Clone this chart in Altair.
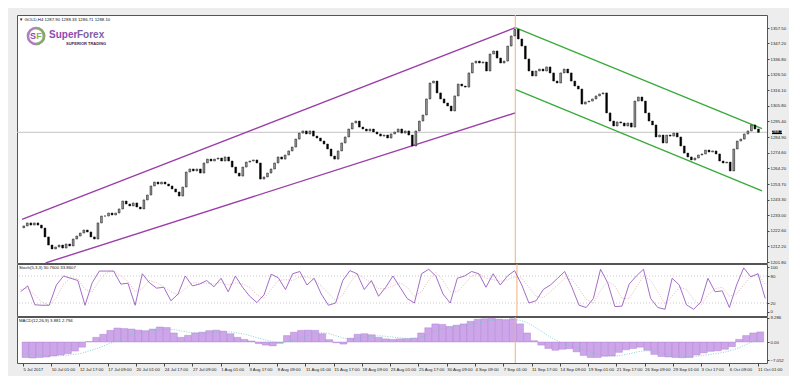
import json
import altair as alt
import pandas as pd

# ---------------- data ----------------
header_text = "\u25bc GOLD,H4  1287.90 1288.33 1286.71 1288.10"
stoch_title = "Stoch(5,3,3) 30.7600 33.8607"
macd_title = "MACD(12,26,9) 3.881 2.794"

first_open = 1224.6
closes = [
    1225.8, 1227.8, 1226.4, 1227.8, 1226.4, 1224.4, 1218.5, 1213.1, 1210.5, 1211.8,
    1213.1, 1211.1, 1213.8, 1212.5, 1217.1, 1219.1, 1221.1, 1223.1, 1221.8, 1218.5,
    1217.1, 1227.8, 1232.4, 1232.4, 1234.4, 1233.1, 1234.4, 1237.1, 1242.4, 1240.4,
    1239.1, 1241.1, 1238.4, 1237.1, 1243.1, 1246.4, 1252.4, 1255.0, 1253.7, 1255.0,
    1253.7, 1252.4, 1250.4, 1248.4, 1245.7, 1251.7, 1261.7, 1263.7, 1262.4, 1263.7,
    1261.0, 1267.7, 1270.3, 1269.0, 1270.3, 1271.0, 1269.0, 1271.7, 1269.0, 1265.0,
    1261.0, 1259.0, 1265.0, 1268.3, 1269.0, 1269.7, 1267.7, 1257.0, 1258.4, 1261.0,
    1263.7, 1267.7, 1271.7, 1270.3, 1273.0, 1275.7, 1278.3, 1283.6, 1287.6, 1289.0,
    1287.0, 1289.0, 1285.6, 1284.3, 1282.3, 1280.3, 1277.0, 1272.3, 1270.3, 1275.7,
    1281.0, 1285.0, 1290.3, 1294.3, 1295.6, 1291.6, 1290.3, 1289.0, 1290.3, 1288.3,
    1287.0, 1285.6, 1286.3, 1284.3, 1287.0, 1288.3, 1290.3, 1287.6, 1289.0, 1286.3,
    1279.0, 1289.0, 1295.6, 1299.6, 1310.3, 1320.9, 1322.2, 1314.3, 1310.3, 1307.6,
    1305.6, 1302.3, 1312.3, 1320.2, 1318.9, 1318.2, 1327.6, 1334.2, 1335.5, 1334.2,
    1334.9, 1328.9, 1340.2, 1342.2, 1337.5, 1334.2, 1335.5, 1345.5, 1352.2, 1356.5,
    1350.2, 1345.5, 1336.9, 1328.9, 1325.6, 1328.9, 1330.2, 1328.9, 1331.6, 1327.6,
    1322.2, 1320.9, 1327.6, 1330.2, 1327.6, 1322.2, 1318.9, 1316.9, 1306.9, 1308.3,
    1308.9, 1310.3, 1312.3, 1313.6, 1314.3, 1301.0, 1295.6, 1292.3, 1295.0, 1294.3,
    1292.3, 1294.3, 1291.6, 1308.9, 1311.6, 1308.9, 1301.0, 1295.6, 1293.0, 1285.0,
    1286.3, 1281.0, 1286.3, 1285.6, 1287.6, 1285.0, 1279.0, 1274.3, 1271.7, 1269.7,
    1271.0, 1273.0, 1273.7, 1276.3, 1275.0, 1275.7, 1273.7, 1269.0, 1267.7, 1268.3,
    1262.4, 1277.0, 1282.3, 1283.6, 1287.0, 1289.0, 1293.0, 1290.3, 1288.1,
]
bars_per_candle = 2

last_price = 1288.10
price_ticks = [1201.80, 1212.20, 1222.60, 1233.00, 1243.30, 1253.70, 1264.20, 1274.60,
               1284.90, 1295.40, 1305.80, 1316.10, 1326.50, 1336.80, 1347.20, 1357.50]

time_tick_bars = [0, 16, 32, 48, 64, 80, 96, 112, 128, 144, 160, 176, 192, 208, 224,
                  240, 256, 272, 288, 304, 320, 336, 352, 368, 384, 400, 416]
time_labels = ["5 Jul 2017", "10 Jul 01:00", "12 Jul 17:00", "17 Jul 09:00", "20 Jul 01:00",
               "24 Jul 17:00", "27 Jul 09:00", "1 Aug 01:00", "3 Aug 17:00", "8 Aug 09:00",
               "11 Aug 01:00", "15 Aug 17:00", "18 Aug 09:00", "23 Aug 01:00", "25 Aug 17:00",
               "30 Aug 09:00", "4 Sep 09:00", "7 Sep 01:00", "11 Sep 17:00", "14 Sep 09:00",
               "19 Sep 01:00", "21 Sep 17:00", "26 Sep 09:00", "29 Sep 01:00", "3 Oct 17:00",
               "6 Oct 09:00", "11 Oct 01:00"]

# trend lines: (bar start, price start, bar end, price end)
channel_purple = [(-0.5, 1230.2, 278.8, 1357.7), (12.9, 1201.2, 278.8, 1301.0)]
channel_green = [(278.8, 1357.7, 418.5, 1290.5), (278.8, 1316.7, 418.5, 1249.1)]
vline_bar = 278.8

ind_step = 4
stoch_k = [45, 58, 16, 15, 15, 60, 80, 75, 70, 15,
           65, 91, 91, 91, 62, 64, 15, 85, 65, 53,
           55, 25, 40, 80, 58, 62, 70, 56, 75, 45,
           80, 55, 35, 21, 38, 84, 76, 50, 85, 90,
           60, 75, 40, 15, 20, 70, 92, 85, 50, 70,
           35, 55, 80, 55, 30, 20, 85, 95, 80, 40,
           20, 75, 80, 90, 85, 55, 85, 60, 80, 92,
           60, 20, 25, 50, 60, 75, 90, 55, 15, 10,
           30, 95, 65, 12, 13, 62, 80, 95, 30, 10,
           6, 75, 60, 16, 6, 22, 75, 45, 47, 10,
           60, 98, 78, 85, 30]
stoch_d = [50, 52, 38, 22, 15, 32, 62, 76, 74, 50,
           45, 70, 88, 91, 80, 68, 45, 52, 70, 65,
           56, 45, 38, 52, 65, 64, 64, 62, 66, 60,
           65, 62, 55, 38, 30, 50, 70, 72, 70, 78,
           78, 72, 58, 42, 25, 38, 65, 85, 75, 65,
           52, 52, 58, 65, 55, 35, 45, 70, 88, 70,
           45, 45, 62, 80, 85, 75, 72, 68, 72, 78,
           75, 55, 35, 32, 45, 60, 75, 72, 52, 28,
           20, 48, 68, 58, 30, 30, 55, 80, 70, 45,
           18, 35, 55, 50, 28, 15, 38, 52, 55, 35,
           40, 60, 80, 85, 60]
stoch_levels = [20, 80]
stoch_ticks = [0, 20, 80, 100]

macd_hist = [-6.0, -6.2, -6.0, -5.8, -5.4, -5.0, -4.5, -3.5, -2.0, 0.2,
             1.8, 3.0, 4.5, 5.4, 5.2, 5.0, 4.6, 4.4, 5.0, 5.8,
             5.6, 3.5, 1.8, 2.6, 3.5, 3.8, 4.4, 4.6, 4.2, 3.2,
             1.8, 1.0, 0.4, -0.6, -1.2, -1.5, -0.5, 2.5, 3.8, 4.5,
             4.6, 4.5, 3.2, 0.9, -0.3, -0.8, 1.5, 3.0, 3.2, 2.8,
             1.8, 1.2, 1.0, 1.2, 1.3, 1.5, 3.5, 5.5, 7.0, 6.8,
             6.0, 6.5, 7.0, 8.0, 8.8, 9.0, 9.2, 8.8, 8.6, 9.0,
             7.0, 3.5, 0.5, -1.2, -2.5, -3.2, -2.8, -2.6, -3.8, -5.2,
             -6.0, -6.0, -5.5, -5.4, -4.0, -3.0, -2.5, -2.0, -3.2, -4.8,
             -5.6, -5.8, -6.0, -6.1, -6.0, -5.0, -4.2, -3.6, -3.4, -2.8,
             -1.8, 1.0, 2.5, 3.5, 3.9]
macd_signal = [-4.5, -4.8, -5.0, -5.2, -5.3, -5.3, -5.1, -4.8, -4.3, -3.5,
               -2.6, -1.6, -0.5, 0.6, 1.8, 2.8, 3.6, 4.1, 4.4, 4.6,
               4.9, 4.8, 4.3, 3.8, 3.5, 3.4, 3.5, 3.8, 4.0, 3.9,
               3.5, 3.0, 2.3, 1.5, 0.8, 0.1, -0.3, 0.1, 0.9, 1.8,
               2.6, 3.3, 3.6, 3.2, 2.4, 1.5, 1.0, 1.3, 1.9, 2.3,
               2.4, 2.2, 1.9, 1.6, 1.4, 1.4, 1.9, 2.9, 4.2, 5.2,
               5.8, 6.1, 6.4, 6.8, 7.3, 7.9, 8.4, 8.7, 8.7, 8.7,
               8.4, 7.5, 6.0, 4.2, 2.4, 0.8, -0.5, -1.4, -2.2, -3.1,
               -4.0, -4.8, -5.3, -5.5, -5.3, -4.8, -4.2, -3.6, -3.4, -3.6,
               -4.1, -4.7, -5.2, -5.5, -5.6, -5.5, -5.2, -4.8, -4.4, -3.9,
               -3.2, -2.2, -1.0, 0.2, 1.3]
macd_ticks = [-7.052, 0.0, 9.286]

# ---------------- tables ----------------
opens = [first_open] + closes[:-1]
candles = pd.DataFrame({
    "bar": [bars_per_candle * i + (bars_per_candle - 1) / 2 for i in range(len(closes))],
    "open": opens,
    "close": closes,
})

lines_df = pd.DataFrame(
    [dict(b1=a, p1=b, b2=c, p2=d, col="purple") for a, b, c, d in channel_purple]
    + [dict(b1=a, p1=b, b2=c, p2=d, col="green") for a, b, c, d in channel_green]
)
ind_bars = [ind_step * i + (ind_step - 1) / 2 for i in range(len(stoch_k))]
stoch_df = pd.DataFrame({"bar": ind_bars, "k": stoch_k, "d": stoch_d})
macd_df = pd.DataFrame({"bar": ind_bars[:len(macd_hist)], "h": macd_hist, "s": macd_signal})

W = 750
X_DOM = [-0.5, 418.5]
FONT = "Liberation Sans"
FS = 4.3

xsc = alt.Scale(domain=X_DOM, nice=False, zero=False)
view_bg = alt.ViewBackground(fill="white", stroke="#555555", strokeWidth=1)


def yaxis(values, fmt_expr=None, fmt=None):
    kw = dict(orient="right", values=values, title=None, grid=False, labelFontSize=FS,
              labelFont=FONT, labelColor="#222222", tickSize=2, tickColor="#444444",
              domain=False, labelPadding=1, labelFlush=False, labelOverlap=False)
    if fmt_expr:
        kw["labelExpr"] = fmt_expr
    if fmt:
        kw["format"] = fmt
    return alt.Axis(**kw)


label_js = json.dumps(time_labels)
X_AX = alt.Axis(values=time_tick_bars, labelExpr=f"{label_js}[round(datum.value/16)]",
                title=None, grid=False, labelFontSize=FS, labelFont=FONT,
                labelColor="#222222", labelAlign="left", labelPadding=1,
                tickSize=3, tickColor="#444444", domain=False, labelFlush=False,
                labelOverlap=False)

# ---------------- main panel ----------------
y_main = alt.Scale(domain=[1201.15, 1366.15], nice=False, zero=False)
AX_MAIN = yaxis(price_ticks, fmt=".2f")
XN = alt.X("bar:Q", scale=xsc, axis=None)

base_c = alt.Chart(candles)
cur_line = alt.Chart(pd.DataFrame({"p": [last_price]})).mark_rule(
    color="#c4c4c4", strokeWidth=1
).encode(y=alt.Y("p:Q", scale=y_main, axis=AX_MAIN))

ch_lines = alt.Chart(lines_df).mark_rule(strokeWidth=1.4).encode(
    x=alt.X("b1:Q", scale=xsc, axis=None), x2="b2:Q",
    y=alt.Y("p1:Q", scale=y_main, axis=AX_MAIN), y2="p2:Q",
    color=alt.Color("col:N", scale=alt.Scale(domain=["purple", "green"],
                                              range=["#9b3fa8", "#3aaa3a"]), legend=None),
)
vline = alt.Chart(pd.DataFrame({"b": [vline_bar]})).mark_rule(
    color="#f3b07c", strokeWidth=1).encode(x=alt.X("b:Q", scale=xsc, axis=None))

body = base_c.mark_bar(width=1.8, stroke="#111111", strokeWidth=0.5).encode(
    x=XN,
    y=alt.Y("open:Q", scale=y_main, axis=AX_MAIN), y2="close:Q",
    fill=alt.condition("datum.close >= datum.open", alt.value("#9c9c9c"), alt.value("#000000")),
)
wick = base_c.mark_rule(color="#000000", strokeWidth=0.8).encode(
    x=XN, y=alt.Y("open:Q", scale=y_main, axis=AX_MAIN), y2="close:Q",
)

hdr = alt.Chart(pd.DataFrame({"t": [header_text]})).mark_text(
    align="left", baseline="middle", fontSize=FS, font=FONT, color="#111111"
).encode(text="t:N", x=alt.value(2), y=alt.value(5))

logo_ring = alt.Chart(pd.DataFrame({"a": [0]})).mark_point(
    shape="circle", size=260, filled=False, strokeWidth=2.6, color="#8b4aa8"
).encode(x=alt.value(19), y=alt.value(21))
logo_ring2 = alt.Chart(pd.DataFrame({"a": [0]})).mark_point(
    shape="M0,-1 A1,1 0 0,1 0,1", size=260, filled=False, strokeWidth=2.6, color="#7cba4a"
).encode(x=alt.value(19), y=alt.value(21))
logo_sf = alt.Chart(pd.DataFrame({"t": ["S", "F"], "c": ["#8b4aa8", "#7cba4a"],
                                  "xo": [16, 22]})).mark_text(
    fontSize=9, fontWeight="bold", font=FONT, baseline="middle", align="center"
).encode(text="t:N", x=alt.X("xo:Q", scale=None), y=alt.value(21),
         color=alt.Color("c:N", scale=None))
logo_txt = alt.Chart(pd.DataFrame({"t": ["Super", "Forex"], "c": ["#8e4bb0", "#7d5fa5"],
                                   "xo": [32, 60]})).mark_text(
    fontSize=10, fontWeight="bold", font=FONT, baseline="middle", align="left"
).encode(text="t:N", x=alt.X("xo:Q", scale=None), y=alt.value(20),
         color=alt.Color("c:N", scale=None))
logo_sub = alt.Chart(pd.DataFrame({"t": ["SUPERIOR TRADING"]})).mark_text(
    fontSize=4, fontWeight="bold", font=FONT, baseline="middle", align="left", color="#3d2457"
).encode(text="t:N", x=alt.value(49), y=alt.value(29))

pbox = alt.Chart(pd.DataFrame({"p": [last_price], "t": [f"{last_price:.2f}"]}))
pbox_rect = pbox.mark_point(shape="M-1,-0.36L1,-0.36L1,0.36L-1,0.36Z", size=100,
                            filled=True, color="#000000", opacity=1).encode(
    x=alt.value(760), y=alt.Y("p:Q", scale=y_main, axis=AX_MAIN))
pbox_txt = pbox.mark_text(fontSize=FS, font=FONT, color="#ffffff", align="center",
                          baseline="middle").encode(
    x=alt.value(760), y=alt.Y("p:Q", scale=y_main, axis=AX_MAIN), text="t:N")

main = alt.layer(cur_line, ch_lines, vline, wick, body, hdr,
                 logo_ring, logo_ring2, logo_sf, logo_txt, logo_sub,
                 pbox_rect, pbox_txt).properties(width=W, height=248, view=view_bg)

# ---------------- stochastic ----------------
y_st = alt.Scale(domain=[-8.89, 106.67], nice=False, zero=False)
AX_ST = yaxis(stoch_ticks, fmt="d")
st_levels = alt.Chart(pd.DataFrame({"v": stoch_levels})).mark_rule(
    color="#bdbdbd", strokeDash=[1, 2], strokeWidth=0.8
).encode(y=alt.Y("v:Q", scale=y_st, axis=AX_ST))
st_vline = alt.Chart(pd.DataFrame({"b": [vline_bar]})).mark_rule(
    color="#f3b07c", strokeWidth=1).encode(x=alt.X("b:Q", scale=xsc, axis=None))
st_d = alt.Chart(stoch_df).mark_line(color="#e2a7a7", strokeDash=[1, 1.5], strokeWidth=0.8).encode(
    x=XN, y=alt.Y("d:Q", scale=y_st, axis=AX_ST))
st_k = alt.Chart(stoch_df).mark_line(color="#9a5cc0", strokeWidth=0.9).encode(
    x=XN, y=alt.Y("k:Q", scale=y_st, axis=AX_ST))
st_hdr = alt.Chart(pd.DataFrame({"t": [stoch_title]})).mark_text(
    align="left", baseline="middle", fontSize=FS, font=FONT, color="#111111"
).encode(text="t:N", x=alt.value(2), y=alt.value(4))
stoch = alt.layer(st_levels, st_vline, st_d, st_k, st_hdr).properties(
    width=W, height=52, view=view_bg)

# ---------------- MACD ----------------
y_m = alt.Scale(domain=[-8.12, 9.67], nice=False, zero=False)
AX_M = yaxis(macd_ticks, fmt_expr="datum.value == 0 ? '0.00' : format(datum.value, '.3f')")
XM = alt.X("bar:Q", scale=xsc, axis=X_AX)
m_hist = alt.Chart(macd_df).mark_bar(width=6.9, color="#cda6ea", stroke="#a877cc",
                                     strokeWidth=0.4).encode(
    x=XM, y=alt.Y("h:Q", scale=y_m, axis=AX_M), y2=alt.datum(0),
)
m_sig = alt.Chart(macd_df).mark_line(color="#6cc7c0", strokeDash=[1, 1.5], strokeWidth=0.8).encode(
    x=XM, y=alt.Y("s:Q", scale=y_m, axis=AX_M))
m_vline = alt.Chart(pd.DataFrame({"bar": [vline_bar]})).mark_rule(
    color="#f3b07c", strokeWidth=1).encode(x=XM)
m_hdr = alt.Chart(pd.DataFrame({"t": [macd_title]})).mark_text(
    align="left", baseline="middle", fontSize=FS, font=FONT, color="#111111"
).encode(text="t:N", x=alt.value(2), y=alt.value(4))
macd = alt.layer(m_hist, m_sig, m_vline, m_hdr).properties(width=W, height=46, view=view_bg)

chart = alt.vconcat(main, stoch, macd, spacing=1, bounds="flush").properties(
    padding={"left": 8, "top": 6, "right": 2, "bottom": 4},
    background="#ededed",
).configure_view(stroke="#555555")

chart.save("out.html", embed_options={"renderer": "svg", "actions": False})
